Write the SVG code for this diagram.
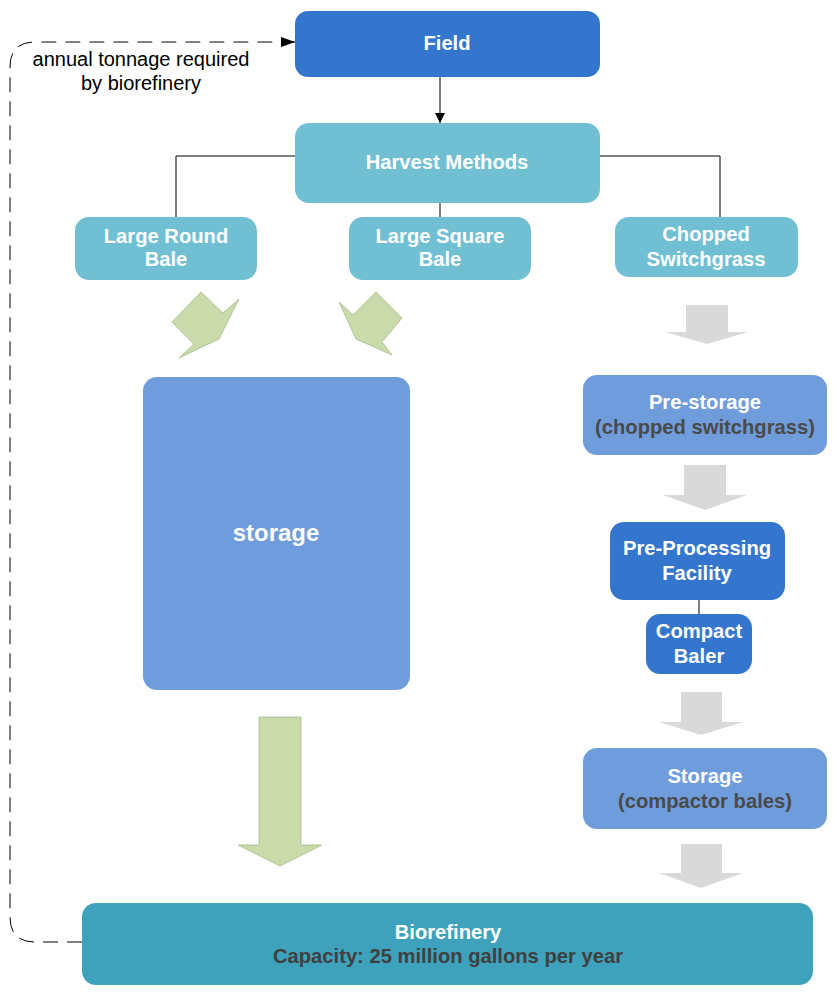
<svg xmlns="http://www.w3.org/2000/svg" width="833" height="993" viewBox="0 0 833 993">
<defs>
<style>
.t{font-family:"Liberation Sans",Arial,sans-serif;font-weight:bold;font-size:20.2px;fill:#fff;text-anchor:middle}
.d{fill:#4a4a4a}
.c1{fill:#3476cd}
.c2{fill:#71bfd3}
.c3{fill:#6f9ddb}
.c4{fill:#3ea2bc}
.g{fill:#cbdaab;stroke:#a9b98c;stroke-width:0.8}
.gr{fill:#d9d9d9}
.ln{fill:none;stroke:#000;stroke-width:1}
.a{font-family:"Liberation Sans",Arial,sans-serif;font-size:20px;fill:#000;text-anchor:middle}
</style>
<marker id="ah" viewBox="0 0 10 10" refX="10" refY="5" markerWidth="10" markerHeight="10" markerUnits="userSpaceOnUse" orient="auto">
<path d="M0,0 L10,5 L0,10 z" fill="#000"/>
</marker>
<marker id="ah2" viewBox="0 0 14 10" refX="14" refY="5" markerWidth="14" markerHeight="10" markerUnits="userSpaceOnUse" orient="auto">
<path d="M0,0 L14,5 L0,10 z" fill="#000"/>
</marker>
</defs>
<rect width="833" height="993" fill="#fff"/>

<g id="connectors">
<path class="ln" d="M82,942 L35,942 Q10,942 10,917 L10,67 Q10,42 35,42 L295,42" stroke-dasharray="15,9" marker-end="url(#ah2)"/>
<path class="ln" d="M440,77 L440,123" marker-end="url(#ah)"/>
<path class="ln" d="M295,156 L176,156 L176,217"/>
<path class="ln" d="M600,156 L720,156 L720,217"/>
<path class="ln" d="M440,203 L440,217"/>
<path class="ln" d="M699,600 L699,614" stroke="#333"/>
<polygon class="g" points="201,292 223,313 239,299 219,339 179,358 194,344 172,322"/>
<polygon class="g" points="376,292 402,318 382,342 392,355 356,339 339,302 353,315"/>
<polygon class="g" points="259,717 301,717 301,845 322,845 280,866 238,845 259,845"/>
<polygon class="gr" points="686,305 728,305 728,332 748,332 707,344 665,332 686,332"/>
<polygon class="gr" points="684,465 726,465 726,495 747,495 705,510 663,495 684,495"/>
<polygon class="gr" points="681,692 722,692 722,722 743,722 701,735 659,722 681,722"/>
<polygon class="gr" points="681,844 722,844 722,873 743,873 701,888 659,873 681,873"/>
</g>

<g id="label-annual">
<text class="a" x="141" y="66">annual tonnage required</text>
<text class="a" x="141" y="90">by biorefinery</text>
</g>

<g id="field">
<rect class="c1" x="295" y="11" width="305" height="66" rx="13"/>
<text class="t" x="447" y="50">Field</text>
</g>

<g id="harvest">
<rect class="c2" x="295" y="123" width="305" height="80" rx="14"/>
<text class="t" x="447" y="169">Harvest Methods</text>
</g>

<g id="round-bale">
<rect class="c2" x="75" y="217" width="182" height="63" rx="14"/>
<text class="t" x="166" y="243">Large Round</text>
<text class="t" x="166" y="266">Bale</text>
</g>

<g id="square-bale">
<rect class="c2" x="349" y="217" width="182" height="63" rx="14"/>
<text class="t" x="440" y="243">Large Square</text>
<text class="t" x="440" y="266">Bale</text>
</g>

<g id="chopped">
<rect class="c2" x="615" y="217" width="183" height="60" rx="14"/>
<text class="t" x="706" y="241">Chopped</text>
<text class="t" x="706" y="266">Switchgrass</text>
</g>

<g id="storage">
<rect class="c3" x="143" y="377" width="267" height="313" rx="14"/>
<text class="t" x="276" y="541" style="font-size:24px">storage</text>
</g>

<g id="pre-storage">
<rect class="c3" x="583" y="375" width="244" height="80" rx="14"/>
<text class="t" x="705" y="409">Pre-storage</text>
<text class="t d" x="705" y="434">(chopped switchgrass)</text>
</g>

<g id="pre-processing">
<rect class="c1" x="610" y="522" width="175" height="78" rx="14"/>
<text class="t" x="697" y="555">Pre-Processing</text>
<text class="t" x="697" y="580">Facility</text>
</g>

<g id="compact-baler">
<rect class="c1" x="646" y="614" width="106" height="60" rx="14"/>
<text class="t" x="699" y="638">Compact</text>
<text class="t" x="699" y="663">Baler</text>
</g>

<g id="storage-bales">
<rect class="c3" x="583" y="748" width="244" height="81" rx="14"/>
<text class="t" x="705" y="783">Storage</text>
<text class="t d" x="705" y="808">(compactor bales)</text>
</g>

<g id="biorefinery">
<rect class="c4" x="82" y="903" width="731" height="82" rx="14"/>
<text class="t" x="448" y="939">Biorefinery</text>
<text class="t" x="448" y="963" style="fill:#404040">Capacity: 25 million gallons per year</text>
</g>
</svg>
